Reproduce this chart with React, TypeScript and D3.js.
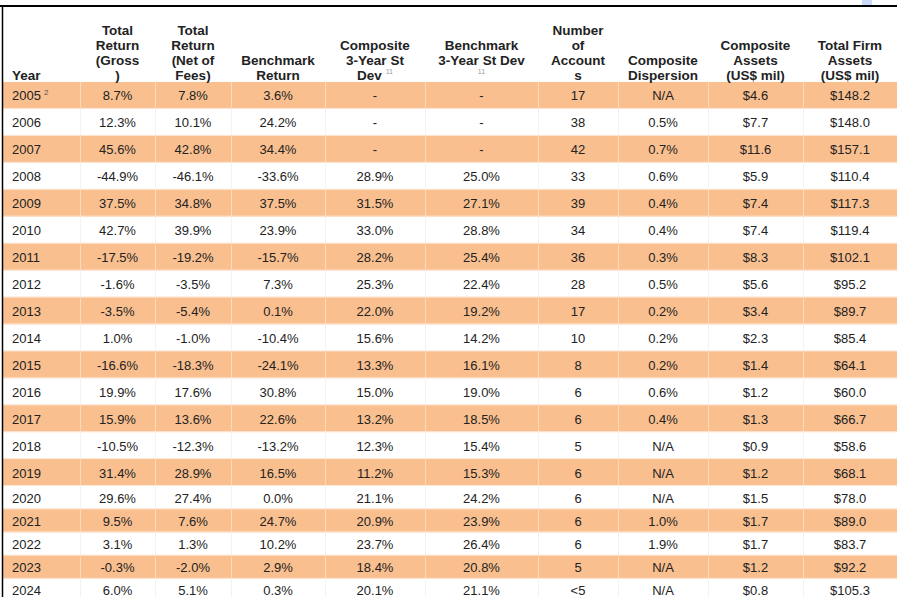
import React from "react";
import * as d3 from "d3";

const years = [2005, 2006, 2007, 2008, 2009, 2010, 2011, 2012, 2013, 2014, 2015, 2016, 2017, 2018, 2019, 2020, 2021, 2022, 2023, 2024];
const grossReturn = [8.7, 12.3, 45.6, -44.9, 37.5, 42.7, -17.5, -1.6, -3.5, 1.0, -16.6, 19.9, 15.9, -10.5, 31.4, 29.6, 9.5, 3.1, -0.3, 6.0];
const netReturn = [7.8, 10.1, 42.8, -46.1, 34.8, 39.9, -19.2, -3.5, -5.4, -1.0, -18.3, 17.6, 13.6, -12.3, 28.9, 27.4, 7.6, 1.3, -2.0, 5.1];
const benchmarkReturn = [3.6, 24.2, 34.4, -33.6, 37.5, 23.9, -15.7, 7.3, 0.1, -10.4, -24.1, 30.8, 22.6, -13.2, 16.5, 0.0, 24.7, 10.2, 2.9, 0.3];
const compositeStdDev: (number | null)[] = [null, null, null, 28.9, 31.5, 33.0, 28.2, 25.3, 22.0, 15.6, 13.3, 15.0, 13.2, 12.3, 11.2, 21.1, 20.9, 23.7, 18.4, 20.1];
const benchmarkStdDev: (number | null)[] = [null, null, null, 25.0, 27.1, 28.8, 25.4, 22.4, 19.2, 14.2, 16.1, 19.0, 18.5, 15.4, 15.3, 24.2, 23.9, 26.4, 20.8, 21.1];
const accounts = ["17", "38", "42", "33", "39", "34", "36", "28", "17", "10", "8", "6", "6", "5", "6", "6", "6", "6", "5", "<5"];
const dispersion: (number | null)[] = [null, 0.5, 0.7, 0.6, 0.4, 0.4, 0.3, 0.5, 0.2, 0.2, 0.2, 0.6, 0.4, null, null, null, 1.0, 1.9, null, null];
const compositeAssets = [4.6, 7.7, 11.6, 5.9, 7.4, 7.4, 8.3, 5.6, 3.4, 2.3, 1.4, 1.2, 1.3, 0.9, 1.2, 1.5, 1.7, 1.7, 1.2, 0.8];
const firmAssets = [148.2, 148.0, 157.1, 110.4, 117.3, 119.4, 102.1, 95.2, 89.7, 85.4, 64.1, 60.0, 66.7, 58.6, 68.1, 78.0, 89.0, 83.7, 92.2, 105.3];

const headers: string[][] = [
  ["Year"],
  ["Total", "Return", "(Gross", ")"],
  ["Total", "Return", "(Net of", "Fees)"],
  ["Benchmark", "Return"],
  ["Composite", "3-Year St", "Dev"],
  ["Benchmark", "3-Year St Dev", ""],
  ["Number", "of", "Account", "s"],
  ["Composite", "Dispersion"],
  ["Composite", "Assets", "(US$ mil)"],
  ["Total Firm", "Assets", "(US$ mil)"],
];

const W = 897;
const H = 597;
const colEdges = [3, 80, 155, 231, 325, 425, 538, 618, 708, 803, 897];
const FONT = "'Liberation Sans', Arial, sans-serif";
const ORANGE = "#f9bf8f";
const TEXT = "#222222";
const HFS = 13.5;

export default function App() {
  const pct = d3.format(".1f");
  const money = d3.format(".1f");
  const fix = (s: string) => s.replace("\u2212", "-");
  const fmtPct = (v: number | null) => (v === null ? "-" : fix(pct(v)) + "%");
  const fmtMoney = (v: number) => "$" + fix(money(v));

  const columns: string[][] = [
    years.map(String),
    grossReturn.map(fmtPct),
    netReturn.map(fmtPct),
    benchmarkReturn.map(fmtPct),
    compositeStdDev.map(fmtPct),
    benchmarkStdDev.map(fmtPct),
    accounts,
    dispersion.map((v) => (v === null ? "N/A" : fmtPct(v))),
    compositeAssets.map(fmtMoney),
    firmAssets.map(fmtMoney),
  ];

  const topYears = years.slice(0, 15);
  const bottomYears = years.slice(15);
  const yTop = d3.scaleBand<number>().domain(topYears).range([82, 486]).padding(0);
  const yBottom = d3.scaleBand<number>().domain(bottomYears).range([486, 602]).padding(0);
  const rowY = (yr: number) => (yTop(yr) !== undefined ? (yTop(yr) as number) : (yBottom(yr) as number));
  const rowH = (yr: number) => (yTop(yr) !== undefined ? yTop.bandwidth() : yBottom.bandwidth());

  const colCenter = (i: number) => (colEdges[i] + colEdges[i + 1]) / 2;
  const headerBaselines = [35, 50, 65, 80];

  return (
    <svg
      width={W}
      height={H}
      style={{ position: "absolute", left: 0, top: 0, background: "#fff" }}
      fontFamily={FONT}
    >
      <rect x={0} y={0} width={W} height={H} fill="#ffffff" />
      {years.map((yr, ri) => {
        const y = rowY(yr);
        const h = rowH(yr);
        const shaded = ri % 2 === 0;
        return (
          <g key={yr}>
            {shaded && <rect x={colEdges[0]} y={y} width={W - colEdges[0]} height={h} fill={ORANGE} />}
            {colEdges.slice(1, -1).map((cx, ci) => (
              <line key={ci} x1={cx + 0.5} x2={cx + 0.5} y1={y} y2={y + h} stroke={shaded ? "#fbd9bc" : "#f3f3f3"} strokeWidth={1} />
            ))}
            <line x1={colEdges[0]} x2={W} y1={y + h - 0.5} y2={y + h - 0.5} stroke="#fbe6d4" strokeWidth={1} />
            {columns.map((col, ci) => {
              const ty = y + h / 2 + 5;
              if (ci === 0) {
                return (
                  <text key={ci} x={12} y={ty} fontSize={13} fill={TEXT}>
                    {col[ri]}
                    {ri === 0 && (
                      <tspan dx={3} dy={-5} fontSize={8} fill="#555">
                        2
                      </tspan>
                    )}
                  </text>
                );
              }
              return (
                <text key={ci} x={colCenter(ci)} y={ty} fontSize={13} fill={TEXT} textAnchor="middle">
                  {col[ri]}
                </text>
              );
            })}
          </g>
        );
      })}
      {headers.map((lines, ci) => {
        const n = lines.length;
        return (
          <g key={ci}>
            {lines.map((ln, li) => {
              const by = headerBaselines[4 - n + li];
              if (ci === 0) {
                return (
                  <text key={li} x={12} y={by} fontSize={HFS} fontWeight="bold" fill={TEXT}>
                    {ln}
                  </text>
                );
              }
              if (ci === 4 && li === 2) {
                return (
                  <text key={li} x={colCenter(ci)} y={by} fontSize={HFS} fontWeight="bold" fill={TEXT} textAnchor="middle">
                    {ln}
                    <tspan dx={4} dy={-6} fontSize={7} fontWeight="normal" fill="#999">
                      11
                    </tspan>
                  </text>
                );
              }
              if (ci === 5 && li === 2) {
                return (
                  <text key={li} x={colCenter(ci)} y={by - 6} fontSize={7} fill="#999" textAnchor="middle">
                    11
                  </text>
                );
              }
              return (
                <text key={li} x={colCenter(ci)} y={by} fontSize={HFS} fontWeight="bold" fill={TEXT} textAnchor="middle">
                  {ln}
                </text>
              );
            })}
          </g>
        );
      })}
      <line x1={0} x2={W} y1={6} y2={6} stroke="#000" strokeWidth={2} />
      <line x1={2.5} x2={2.5} y1={6} y2={H} stroke="#000" strokeWidth={1.5} />
      <rect x={862} y={0} width={10} height={5} fill="#c9daf8" />
    </svg>
  );
}
